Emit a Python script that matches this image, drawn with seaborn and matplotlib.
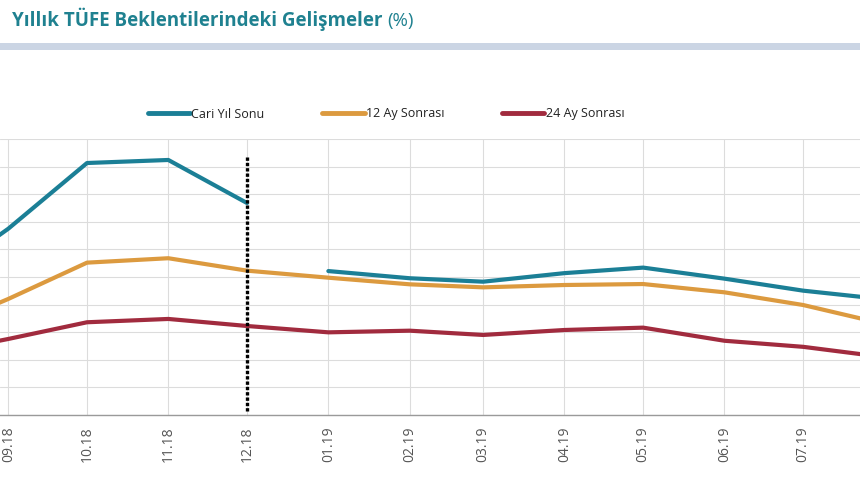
import numpy as np
import pandas as pd
import matplotlib
matplotlib.use("Agg")
import matplotlib.pyplot as plt
from matplotlib.patches import Rectangle
from matplotlib.lines import Line2D
import seaborn as sns

# Data (y scale is hidden in the crop, so values are estimates)
months = ['2018-08', '2018-09', '2018-10', '2018-11', '2018-12', '2019-01', '2019-02',
          '2019-03', '2019-04', '2019-05', '2019-06', '2019-07', '2019-08']
tick_labels = ['08.18', '09.18', '10.18', '11.18', '12.18', '01.19', '02.19',
               '03.19', '04.19', '05.19', '06.19', '07.19', '08.19']
cari_yil_sonu = [13.3, 17.5, 22.26, 22.48, 19.36, 14.43, 13.91, 13.66, 14.28, 14.68, 13.88, 13.01, 12.38]
ay12_sonrasi = [9.9, 12.41, 15.04, 15.36, 14.46, 13.95, 13.47, 13.25, 13.42, 13.49, 12.89, 11.97, 10.59]
ay24_sonrasi = [8.35, 9.51, 10.72, 10.96, 10.45, 9.99, 10.11, 9.80, 10.16, 10.33, 9.38, 8.94, 8.19]
series_names = ['Cari Yıl Sonu', '12 Ay Sonrası', '24 Ay Sonrası']
colors = ['#1b7f96', '#dc9a3f', '#a12b3e']
break_month = '2018-12'

dates = pd.to_datetime(months)
rows = []
for name, vals in zip(series_names, [cari_yil_sonu, ay12_sonrasi, ay24_sonrasi]):
    for d, v in zip(dates, vals):
        # current-year-end series restarts in January
        seg = d.year if name == 'Cari Yıl Sonu' else 0
        rows.append({'Tarih': d, 'Deger': v, 'Seri': name, 'Parca': seg})
df = pd.DataFrame(rows)

sns.set_theme(style='whitegrid')
plt.rcParams['font.family'] = ['Open Sans', 'DejaVu Sans']

fig = plt.figure(figsize=(8.6, 4.8), dpi=100)
ax = fig.add_axes([0, 65 / 480, 1, 276 / 480])

sns.lineplot(data=df, x='Tarih', y='Deger', hue='Seri', units='Parca', estimator=None,
             palette=dict(zip(series_names, colors)), linewidth=3.0, ax=ax, legend=False)

ax.axvline(pd.Timestamp(break_month), ymin=0.015, ymax=0.935, color='black',
           linewidth=2.4, linestyle=(0, (1, 0.6)), zorder=5)

ax.set_yticks(np.arange(4, 25, 2))
ax.set_yticklabels([])
ax.set_xticks(dates)
ax.set_xticklabels(tick_labels, rotation=90, fontsize=10, color='#555555')
# view limits after the ticks, the reference is a crop of a wider chart
ax.set_xlim(pd.Timestamp('2018-08-28 20:00'), pd.Timestamp('2019-07-22 16:00'))
ax.set_ylim(4, 24)
ax.tick_params(axis='x', length=4, width=0.8, color='#999999', pad=4)
ax.tick_params(axis='y', length=0)
ax.grid(True, color='#dcdcdc', linewidth=0.8)
ax.set_xlabel('')
ax.set_ylabel('')
for side in ['top', 'left', 'right']:
    ax.spines[side].set_visible(False)
ax.spines['bottom'].set_color('#9a9a9a')
ax.spines['bottom'].set_linewidth(1.0)
ax.set_facecolor('white')

handles = [Line2D([], [], color=c, linewidth=3.5, solid_capstyle='round') for c in colors]
fig.legend(handles, series_names, loc='center', bbox_to_anchor=(386 / 860, 1 - 114 / 480),
           ncol=3, frameon=False, fontsize=9, handlelength=3.4, handletextpad=0.1,
           columnspacing=4.6, labelcolor='#222222')

# title and separator band
title_color = '#1f8190'
t1 = fig.text(12 / 860, 1 - 26 / 480, 'Yıllık TÜFE Beklentilerindeki Gelişmeler',
              fontsize=13.5, fontweight='bold', color=title_color, va='baseline')
fig.canvas.draw()
bb = t1.get_window_extent()
fig.text((bb.x1 + 5) / 860, 1 - 26 / 480, '(%)', fontsize=13.5, color=title_color, va='baseline')
fig.patches.append(Rectangle((0, 1 - 50 / 480), 1, 7 / 480, transform=fig.transFigure,
                             facecolor='#cbd5e4', edgecolor='none'))

fig.savefig('out.png', dpi=100)
